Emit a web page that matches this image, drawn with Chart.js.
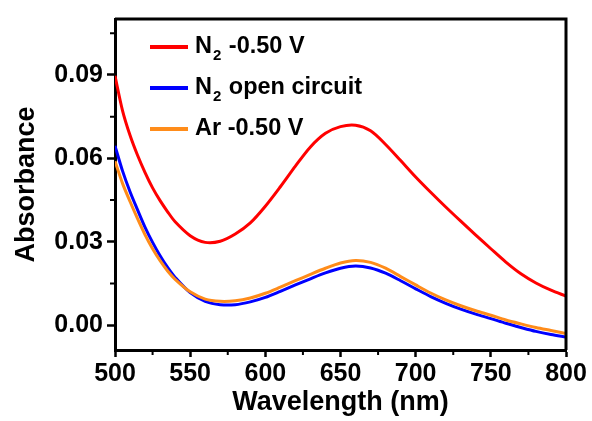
<!DOCTYPE html>
<html>
<head>
<meta charset="utf-8">
<script src="https://cdn.jsdelivr.net/npm/chart.js@4/dist/chart.umd.min.js"></script>
<style>
  html, body { margin: 0; padding: 0; background: #fff; }
  #wrap { width: 592px; height: 421px; position: relative; }
</style>
</head>
<body>
<div id="wrap"><canvas id="c" width="592" height="421"></canvas></div>
<script>
const wavelengths = [500,505,510,515,520,525,530,535,540,550,560,570,580,590,600,610,620,630,640,650,660,670,680,690,700,710,720,730,740,750,760,770,780,790,800];
const n2Neg050 = [0.0897,0.0772,0.0683,0.0611,0.0549,0.0494,0.0448,0.0408,0.0372,0.0322,0.0298,0.0302,0.0328,0.0368,0.0428,0.0498,0.0572,0.0641,0.0690,0.0714,0.0719,0.0699,0.0650,0.0592,0.0533,0.0478,0.0425,0.0374,0.0324,0.0275,0.0227,0.0185,0.0152,0.0126,0.0105];
const n2Open = [0.0645,0.0555,0.0480,0.0415,0.0352,0.0298,0.0250,0.0208,0.0172,0.0117,0.0086,0.0074,0.0074,0.0084,0.0100,0.0122,0.0145,0.0167,0.0188,0.0205,0.0213,0.0206,0.0187,0.0160,0.0131,0.0103,0.0079,0.0058,0.0040,0.0024,0.0007,-0.0008,-0.0022,-0.0033,-0.0042];
const arNeg050 = [0.0590,0.0510,0.0445,0.0383,0.0325,0.0275,0.0232,0.0195,0.0165,0.0120,0.0094,0.0086,0.0088,0.0098,0.0115,0.0137,0.0160,0.0183,0.0205,0.0224,0.0233,0.0226,0.0205,0.0175,0.0145,0.0116,0.0091,0.0070,0.0052,0.0036,0.0019,0.0005,-0.0008,-0.0019,-0.0030];
const seriesLabels = ['N\u2082 -0.50 V', 'N\u2082 open circuit', 'Ar -0.50 V'];
const seriesColors = ['#ff0000', '#0000ff', '#ff8c1a'];
const xMajorTicks = [500,550,600,650,700,750,800];
const xMinorTicks = [525,575,625,675,725,775];
const yMajorTicks = [0.00,0.03,0.06,0.09];
const yMinorTicks = [0.015,0.045,0.075,0.105];
const xTitle = 'Wavelength (nm)';
const yTitle = 'Absorbance';

const FONT = "'Liberation Sans', Arial, sans-serif";

function toXY(ys) { return wavelengths.map((w, i) => ({x: w, y: ys[i]})); }

function drawLabel(ctx, text, x, y) {
  const parts = text.split('\u2082');
  let cx = x;
  parts.forEach((p, i) => {
    ctx.font = "bold 23.5px " + FONT;
    ctx.fillText(p, cx, y);
    cx += ctx.measureText(p).width;
    if (i < parts.length - 1) {
      ctx.font = "bold 15px " + FONT;
      ctx.fillText('2', cx + 1, y + 9);
      cx += ctx.measureText('2').width + 2;
    }
  });
}

const framePlugin = {
  id: 'frame',
  afterDraw(chart) {
    const {ctx, chartArea: a, scales} = chart;
    ctx.save();
    ctx.strokeStyle = '#000';
    ctx.lineWidth = 3;
    ctx.beginPath();
    ctx.moveTo(a.left, a.top);
    ctx.lineTo(a.right, a.top);
    ctx.lineTo(a.right, a.bottom);
    ctx.stroke();
    // minor ticks
    ctx.lineWidth = 2;
    ctx.beginPath();
    xMinorTicks.forEach(v => {
      const px = scales.x.getPixelForValue(v);
      ctx.moveTo(px, a.bottom); ctx.lineTo(px, a.bottom + 5);
    });
    yMinorTicks.forEach(v => {
      const py = scales.y.getPixelForValue(v);
      ctx.moveTo(a.left, py); ctx.lineTo(a.left - 5, py);
    });
    ctx.stroke();
    // legend
    const lx = 150, ly0 = 47, dy = 41, len = 38;
    chart.data.datasets.forEach((ds, i) => {
      const y = ly0 + i * dy;
      ctx.strokeStyle = ds.borderColor;
      ctx.lineWidth = 4;
      ctx.beginPath();
      ctx.moveTo(lx, y); ctx.lineTo(lx + len, y);
      ctx.stroke();
      ctx.fillStyle = '#000';
      ctx.textBaseline = 'middle';
      ctx.textAlign = 'left';
      drawLabel(ctx, ds.label, lx + len + 7, y);
    });
    ctx.restore();
  }
};

new Chart(document.getElementById('c'), {
  type: 'line',
  data: {
    datasets: [
      {label: seriesLabels[0], data: toXY(n2Neg050), borderColor: seriesColors[0], order: 2},
      {label: seriesLabels[1], data: toXY(n2Open), borderColor: seriesColors[1], order: 1},
      {label: seriesLabels[2], data: toXY(arNeg050), borderColor: seriesColors[2], order: 0}
    ]
  },
  options: {
    responsive: false,
    animation: false,
    devicePixelRatio: 1,
    layout: {padding: {top: 15, right: 26, left: 0, bottom: 0}},
    elements: {
      line: {borderWidth: 3, tension: 0.3, fill: false},
      point: {radius: 0}
    },
    plugins: {legend: {display: false}, tooltip: {enabled: false}},
    scales: {
      x: {
        type: 'linear', min: 500, max: 800,
        afterFit(s) { s.height = 71; },
        afterBuildTicks(s) { s.ticks = xMajorTicks.map(v => ({value: v})); },
        grid: {drawOnChartArea: false, drawTicks: true, tickLength: 7, tickWidth: 2.5, tickColor: '#000'},
        border: {display: true, color: '#000', width: 3},
        ticks: {color: '#000', font: {family: FONT, size: 25, weight: 'bold'}, padding: 2, maxRotation: 0},
        title: {display: true, text: xTitle, color: '#000', font: {family: FONT, size: 27, weight: 'bold'}, padding: {top: 0, bottom: 2}}
      },
      y: {
        type: 'linear', min: -0.0089, max: 0.1101,
        afterFit(s) { s.width = 115; },
        afterBuildTicks(s) { s.ticks = yMajorTicks.map(v => ({value: v})); },
        grid: {drawOnChartArea: false, drawTicks: true, tickLength: 8, tickWidth: 2.5, tickColor: '#000'},
        border: {display: true, color: '#000', width: 3},
        ticks: {color: '#000', font: {family: FONT, size: 25, weight: 'bold'}, padding: 4,
          callback: v => v.toFixed(2)},
        title: {display: true, text: yTitle, color: '#000', font: {family: FONT, size: 27, weight: 'bold'}, padding: {top: 10, bottom: 0}}
      }
    }
  },
  plugins: [framePlugin]
});
</script>
</body>
</html>
